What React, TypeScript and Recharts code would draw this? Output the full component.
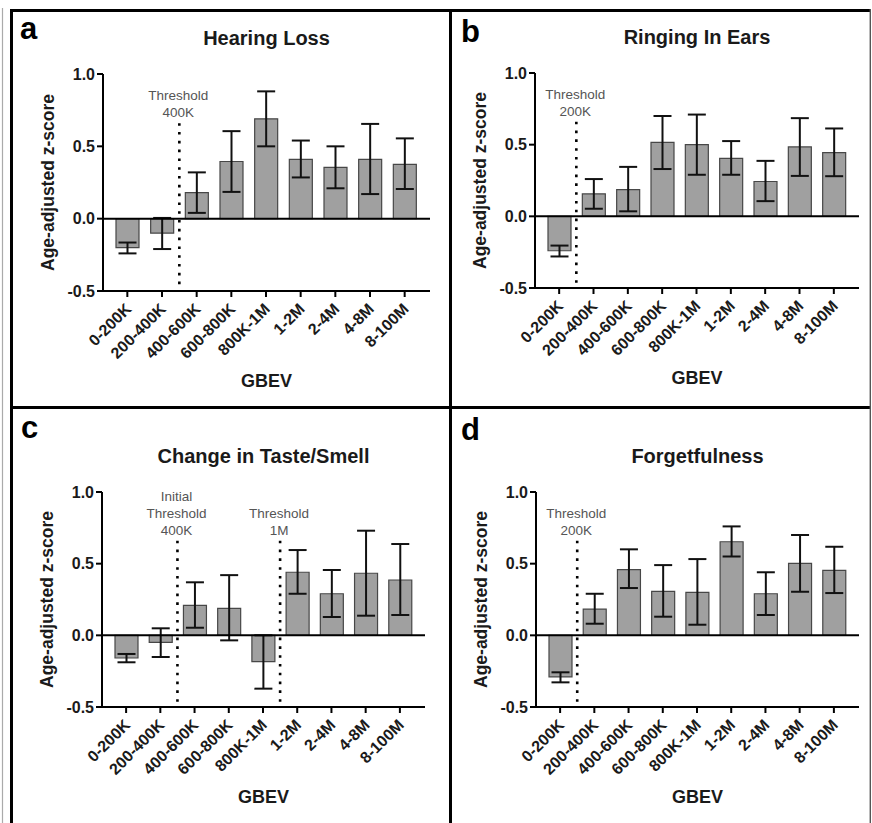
import React from "react";
import { BarChart, Bar, XAxis, YAxis, ErrorBar, ReferenceLine } from "recharts";

// ---- data ----
const categories = ["0-200K", "200-400K", "400-600K", "600-800K", "800K-1M", "1-2M", "2-4M", "4-8M", "8-100M"];
const yTicks = [-0.5, 0, 0.5, 1.0];

const hearingValues = [-0.2, -0.1, 0.18, 0.395, 0.69, 0.41, 0.355, 0.41, 0.375];
const hearingLow = [-0.24, -0.21, 0.04, 0.185, 0.5, 0.285, 0.21, 0.17, 0.205];
const hearingHigh = [-0.165, 0.005, 0.32, 0.605, 0.88, 0.54, 0.5, 0.655, 0.555];

const ringingValues = [-0.24, 0.157, 0.187, 0.516, 0.5, 0.405, 0.243, 0.484, 0.444];
const ringingLow = [-0.28, 0.053, 0.035, 0.33, 0.29, 0.29, 0.106, 0.282, 0.28];
const ringingHigh = [-0.204, 0.26, 0.345, 0.7, 0.71, 0.525, 0.387, 0.685, 0.613];

const tasteValues = [-0.158, -0.049, 0.209, 0.188, -0.184, 0.44, 0.29, 0.433, 0.386];
const tasteLow = [-0.188, -0.151, 0.053, -0.035, -0.372, 0.29, 0.128, 0.137, 0.142];
const tasteHigh = [-0.13, 0.049, 0.37, 0.42, 0.0, 0.595, 0.456, 0.73, 0.637];

const forgetValues = [-0.29, 0.183, 0.459, 0.306, 0.3, 0.653, 0.29, 0.502, 0.453];
const forgetLow = [-0.328, 0.081, 0.33, 0.13, 0.074, 0.55, 0.142, 0.304, 0.295];
const forgetHigh = [-0.258, 0.29, 0.6, 0.49, 0.532, 0.76, 0.44, 0.7, 0.618];

const thresholdTop = 0.66;

const FONT = '"Liberation Sans", Arial, Helvetica, sans-serif';
const X_AXIS_H = 60;

// threshold lines sit at the right edge of the band of the named category
type Threshold = { after: string; lines: string[] };
type PanelDef = {
  letter: string;
  title: string;
  values: number[];
  low: number[];
  high: number[];
  thresholds: Threshold[];
  box: { x: number; y: number; w: number; h: number };
  plot: { left: number; top: number; right: number; bottom: number };
  letterPos: { x: number; y: number };
};

const panels: PanelDef[] = [
  {
    letter: "a",
    title: "Hearing Loss",
    values: hearingValues,
    low: hearingLow,
    high: hearingHigh,
    thresholds: [{ after: "200-400K", lines: ["Threshold", "400K"] }],
    box: { x: 13, y: 12, w: 436, h: 394 },
    plot: { left: 103, top: 74, right: 430, bottom: 291 },
    letterPos: { x: 20, y: 39 },
  },
  {
    letter: "b",
    title: "Ringing In Ears",
    values: ringingValues,
    low: ringingLow,
    high: ringingHigh,
    thresholds: [{ after: "0-200K", lines: ["Threshold", "200K"] }],
    box: { x: 452, y: 12, w: 418, h: 394 },
    plot: { left: 535, top: 73, right: 859, bottom: 288 },
    letterPos: { x: 461, y: 42 },
  },
  {
    letter: "c",
    title: "Change in Taste/Smell",
    values: tasteValues,
    low: tasteLow,
    high: tasteHigh,
    thresholds: [
      { after: "200-400K", lines: ["Initial", "Threshold", "400K"] },
      { after: "800K-1M", lines: ["Threshold", "1M"] },
    ],
    box: { x: 13, y: 409, w: 436, h: 414 },
    plot: { left: 102, top: 492, right: 425, bottom: 707 },
    letterPos: { x: 21, y: 438 },
  },
  {
    letter: "d",
    title: "Forgetfulness",
    values: forgetValues,
    low: forgetLow,
    high: forgetHigh,
    thresholds: [{ after: "0-200K", lines: ["Threshold", "200K"] }],
    box: { x: 452, y: 409, w: 418, h: 414 },
    plot: { left: 536, top: 492, right: 859, bottom: 707 },
    letterPos: { x: 461, y: 440 },
  },
];

const XTick = (props: any) => {
  const { x, y, payload } = props;
  const ax = x + 5;
  const ay = y + 11;
  return (
    <text
      x={ax}
      y={ay}
      transform={`rotate(-45 ${ax} ${ay})`}
      textAnchor="end"
      fontSize={16}
      fontWeight="bold"
      fill="#1a1a1a"
      fontFamily={FONT}
    >
      {payload.value}
    </text>
  );
};

const makeThresholdLabel = (lines: string[]) => (props: any) => {
  const vb = props.viewBox || {};
  const x = vb.x ?? 0;
  const y = vb.y ?? 0;
  const n = lines.length;
  return (
    <g>
      {lines.map((t, i) => (
        <text
          key={i}
          x={x - 1}
          y={y - 6 - (n - 1 - i) * 17}
          textAnchor="middle"
          fontSize={13.5}
          fill="#555"
          fontFamily={FONT}
        >
          {t}
        </text>
      ))}
    </g>
  );
};

function Panel({ p }: { p: PanelDef }) {
  const { box, plot } = p;
  const data = categories.map((name, i) => ({
    name,
    v: p.values[i],
    err: [p.values[i] - p.low[i], p.high[i] - p.values[i]],
  }));
  const margin = {
    top: plot.top - box.y,
    right: box.x + box.w - plot.right,
    left: 0,
    bottom: box.y + box.h - plot.bottom - X_AXIS_H,
  };
  return (
    <div style={{ position: "absolute", left: box.x, top: box.y }}>
      <BarChart width={box.w} height={box.h} data={data} margin={margin} barSize={23}>
        <XAxis
          dataKey="name"
          type="category"
          interval={0}
          height={X_AXIS_H}
          padding={{ left: 7, right: 8 }}
          axisLine={{ stroke: "#000", strokeWidth: 2 }}
          tickLine={{ stroke: "#000", strokeWidth: 2 }}
          tickSize={6}
          tick={<XTick />}
        />
        <YAxis
          width={plot.left - box.x}
          type="number"
          domain={[-0.5, 1]}
          ticks={yTicks}
          interval={0}
          allowDataOverflow
          axisLine={{ stroke: "#000", strokeWidth: 2 }}
          tickLine={{ stroke: "#000", strokeWidth: 2 }}
          tickSize={6}
          tickFormatter={(v: number) => v.toFixed(1)}
          tick={{ fontSize: 16, fontWeight: "bold", fill: "#1a1a1a", fontFamily: FONT }}
        />
        <Bar dataKey="v" fill="#a0a0a0" stroke="#474747" strokeWidth={1.2} isAnimationActive={false}>
          <ErrorBar dataKey="err" width={9} stroke="#111" strokeWidth={2} isAnimationActive={false} />
        </Bar>
        <ReferenceLine y={0} stroke="#000" strokeWidth={2} />
        {p.thresholds.map((t, i) => (
          <ReferenceLine
            key={i}
            position="end"
            segment={[
              { x: t.after, y: thresholdTop },
              { x: t.after, y: -0.5 },
            ]}
            stroke="#000"
            strokeWidth={2.6}
            strokeDasharray="2.6 6.2"
            label={makeThresholdLabel(t.lines)}
          />
        ))}
      </BarChart>
    </div>
  );
}

function Overlay() {
  return (
    <svg
      width={872}
      height={823}
      style={{ position: "absolute", left: 0, top: 0, pointerEvents: "none" }}
      fontFamily={FONT}
    >
      {/* frame */}
      <line x1={2.5} y1={8} x2={2.5} y2={823} stroke="#aaa" strokeWidth={1.2} />
      <line x1={10} y1={10.5} x2={871} y2={10.5} stroke="#000" strokeWidth={3} />
      <line x1={11.5} y1={9} x2={11.5} y2={823} stroke="#000" strokeWidth={3} />
      <line x1={450.5} y1={9} x2={450.5} y2={823} stroke="#000" strokeWidth={3} />
      <line x1={10} y1={407.5} x2={871} y2={407.5} stroke="#000" strokeWidth={3} />
      <line x1={870.3} y1={9} x2={870.3} y2={823} stroke="#555" strokeWidth={1.4} />
      {panels.map((p) => {
        const cx = (p.plot.left + p.plot.right) / 2;
        const cy = (p.plot.top + p.plot.bottom) / 2;
        const ylx = p.plot.left - 49;
        return (
          <g key={p.letter}>
            <text x={p.letterPos.x} y={p.letterPos.y} fontSize={31} fontWeight="bold" fill="#000">
              {p.letter}
            </text>
            <text x={cx} y={p.plot.top - 29} fontSize={20} fontWeight="bold" fill="#1a1a1a" textAnchor="middle">
              {p.title}
            </text>
            <text
              x={ylx}
              y={cy}
              fontSize={17.5}
              fontWeight="bold"
              fill="#1a1a1a"
              textAnchor="middle"
              transform={`rotate(-90 ${ylx} ${cy})`}
            >
              Age-adjusted z-score
            </text>
            <text x={cx} y={p.plot.bottom + 96} fontSize={18} fontWeight="bold" fill="#1a1a1a" textAnchor="middle">
              GBEV
            </text>
          </g>
        );
      })}
    </svg>
  );
}

export default function App() {
  return (
    <div
      style={{
        position: "absolute",
        left: 0,
        top: 0,
        width: 872,
        height: 823,
        background: "#fff",
        overflow: "hidden",
        fontFamily: FONT,
      }}
    >
      {panels.map((p) => (
        <Panel key={p.letter} p={p} />
      ))}
      <Overlay />
    </div>
  );
}
